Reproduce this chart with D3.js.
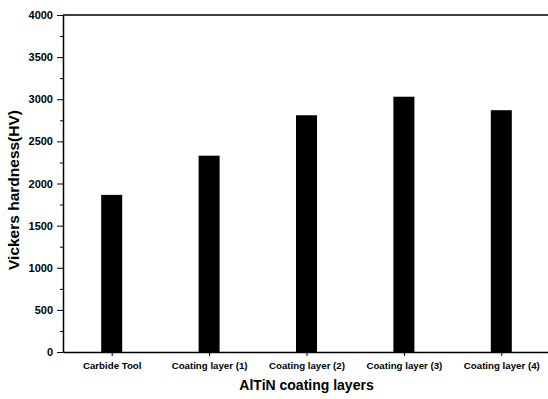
<!DOCTYPE html>
<html>
<head>
<meta charset="utf-8">
<script src="https://cdn.jsdelivr.net/npm/d3@7"></script>
<style>
  body { margin: 0; background: #fff; }
  svg { display: block; font-family: "Liberation Sans", Arial, sans-serif; }
  .axis text { font-weight: bold; fill: #000; }
  .axis path, .axis line { stroke: #000; }
</style>
</head>
<body>
<svg class="chart" width="548" height="399"></svg>
<script>
// Data
const categories = ['Carbide Tool', 'Coating layer (1)', 'Coating layer (2)', 'Coating layer (3)', 'Coating layer (4)'];
const hardness = [1865, 2330, 2810, 3030, 2870];
const yTicks = [0, 500, 1000, 1500, 2000, 2500, 3000, 3500, 4000];
const yMinorTicks = [250, 750, 1250, 1750, 2250, 2750, 3250, 3750];

const margin = { top: 15, right: 0, bottom: 47, left: 63 };
const width = 548;
const height = 399;

const svg = d3.select('.chart');

// x runs past the right edge, the original figure is cropped there
const x = d3.scaleLinear().domain([-0.5, 4.5]).range([margin.left, 550]);
const y = d3.scaleLinear().domain([0, 4000]).range([height - margin.bottom, margin.top]);

const barWidth = 21;

// bars
svg.selectAll('.bar')
   .data(hardness)
   .enter().append('rect')
   .attr('class', 'bar')
   .attr('x', (d, i) => x(i) - barWidth / 2)
   .attr('y', d => y(d))
   .attr('width', barWidth)
   .attr('height', d => y(0) - y(d))
   .attr('fill', '#000');

// top frame line
svg.append('line')
   .attr('x1', margin.left).attr('x2', width)
   .attr('y1', y(4000)).attr('y2', y(4000))
   .attr('stroke', '#000').attr('stroke-width', 1.5);

// y axis
const yAxis = d3.axisLeft(y).tickValues(yTicks).tickFormat(d3.format('d'))
   .tickSize(6).tickPadding(4).tickSizeOuter(0);
const gy = svg.append('g')
   .attr('class', 'axis y-axis')
   .attr('transform', `translate(${margin.left}, 0)`)
   .call(yAxis);
gy.select('.domain').attr('stroke-width', 1.5);
gy.selectAll('text').attr('font-size', 11);

svg.append('g')
   .attr('class', 'axis')
   .attr('transform', `translate(${margin.left}, 0)`)
   .call(d3.axisLeft(y).tickValues(yMinorTicks).tickSize(3).tickFormat(''))
   .select('.domain').remove();

// x axis
const xAxis = d3.axisBottom(x).tickValues(d3.range(categories.length))
   .tickFormat(i => categories[i]).tickSize(4).tickPadding(6).tickSizeOuter(0);
const gx = svg.append('g')
   .attr('class', 'axis x-axis')
   .attr('transform', `translate(0, ${y(0)})`)
   .call(xAxis);
gx.select('.domain').attr('stroke-width', 1.5);
gx.selectAll('text').attr('font-size', 9.7);

// axis titles
svg.append('text')
   .attr('x', x(2))
   .attr('y', 390)
   .attr('text-anchor', 'middle')
   .attr('font-size', 14)
   .attr('font-weight', 'bold')
   .text('AlTiN coating layers');

svg.append('text')
   .attr('transform', `translate(19, 190) rotate(-90)`)
   .attr('text-anchor', 'middle')
   .attr('font-size', 15.5)
   .attr('font-weight', 'bold')
   .text('Vickers hardness(HV)');
</script>
</body>
</html>
